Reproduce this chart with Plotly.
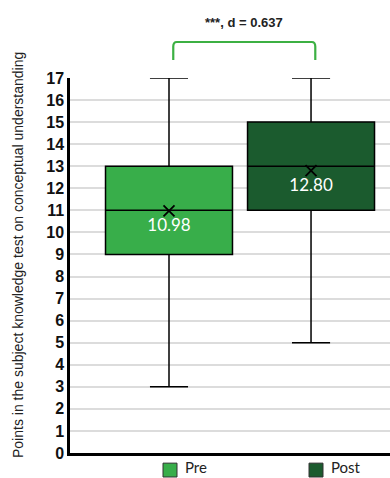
import plotly.graph_objects as go

# Five-number summaries and means for the two test times
groups = ["Pre", "Post"]
lower_whisker = [3, 5]
q1 = [9, 11]
median = [11, 13]
q3 = [13, 15]
upper_whisker = [17, 17]
means = [10.98, 12.80]
fill_colors = ["#38ae4a", "#1b5b2e"]

y_ticks = list(range(0, 18))
y_title = "Points in the subject knowledge test on conceptual understanding"
sig_label = "***, d = 0.637"

fig = go.Figure()

for i, name in enumerate(groups):
    fig.add_trace(go.Box(
        x=[i], name=name,
        q1=[q1[i]], median=[median[i]], q3=[q3[i]],
        lowerfence=[lower_whisker[i]], upperfence=[upper_whisker[i]],
        fillcolor=fill_colors[i],
        line=dict(color="black", width=1.5),
        width=0.894, whiskerwidth=0.3,
        boxpoints=False, showlegend=False, hoverinfo="skip",
    ))

# Mean markers with their values written underneath
fig.add_trace(go.Scatter(
    x=list(range(len(groups))), y=means,
    mode="markers+text",
    marker=dict(symbol="x-thin", size=11, line=dict(color="black", width=1.8)),
    text=[f"{m:.2f}" for m in means],
    textposition="bottom center",
    textfont=dict(family="Lato", size=17, color="white"),
    showlegend=False, hoverinfo="skip", cliponaxis=False,
))

# Significance bracket between the two groups
bx0, bx1 = 0.03, 1.03
y_lo, y_hi, r = 1.048, 1.096, 0.012
rx = 0.025
path = (f"M {bx0},{y_lo} L {bx0},{y_hi - r} Q {bx0},{y_hi} {bx0 + rx},{y_hi} "
        f"L {bx1 - rx},{y_hi} Q {bx1},{y_hi} {bx1},{y_hi - r} L {bx1},{y_lo}")
fig.add_shape(type="path", path=path, xref="x", yref="paper",
              line=dict(color="#3cb043", width=2.2), layer="above")
fig.add_annotation(x=(bx0 + bx1) / 2, y=(453 - 23) / 375, xref="x", yref="paper",
                   text=f"<b>{sig_label}</b>", showarrow=False,
                   xanchor="center", yanchor="middle",
                   font=dict(family="Liberation Sans", size=13, color="#222"))

# Y-axis title, placed in paper units relative to the plot area
fig.add_annotation(x=(18 - 70) / 320, y=(453 - 255) / 375,
                   xref="paper", yref="paper", text=y_title,
                   textangle=-90, showarrow=False,
                   xanchor="center", yanchor="middle",
                   font=dict(family="Liberation Sans", size=14, color="#222"))

# Legend drawn below the axis
legend_x = [(163 - 70) / 320, (309 - 70) / 320]
for i, name in enumerate(groups):
    x0 = legend_x[i]
    fig.add_shape(type="rect", xref="paper", yref="paper",
                  x0=x0, x1=x0 + 14 / 320, y0=-0.064, y1=-0.027,
                  fillcolor=fill_colors[i], line=dict(color="#333", width=1))
    fig.add_annotation(x=x0 + 21 / 320, y=(453 - 467) / 375,
                       xref="paper", yref="paper",
                       text=name, xanchor="left", yanchor="middle",
                       showarrow=False, borderpad=0,
                       font=dict(family="Lato", size=15, color="#222"))

fig.update_layout(
    width=390, height=478,
    margin=dict(l=70, r=0, t=78, b=25),
    paper_bgcolor="white", plot_bgcolor="white",
    boxmode="overlay",
    xaxis=dict(range=[-0.697, 1.556], showticklabels=False, showgrid=False,
               zeroline=False, showline=True, linecolor="black", linewidth=2.5,
               fixedrange=True),
    yaxis=dict(range=[0, 17], tickvals=y_ticks, showgrid=True,
               gridcolor="#dcdcdc", gridwidth=1.5, zeroline=False,
               showline=True, linecolor="black", linewidth=2.5,
               tickfont=dict(family="Liberation Sans", size=16, color="#111",
                             weight="bold"),
               ticks="", fixedrange=True),
)

fig.write_html("out.html")
